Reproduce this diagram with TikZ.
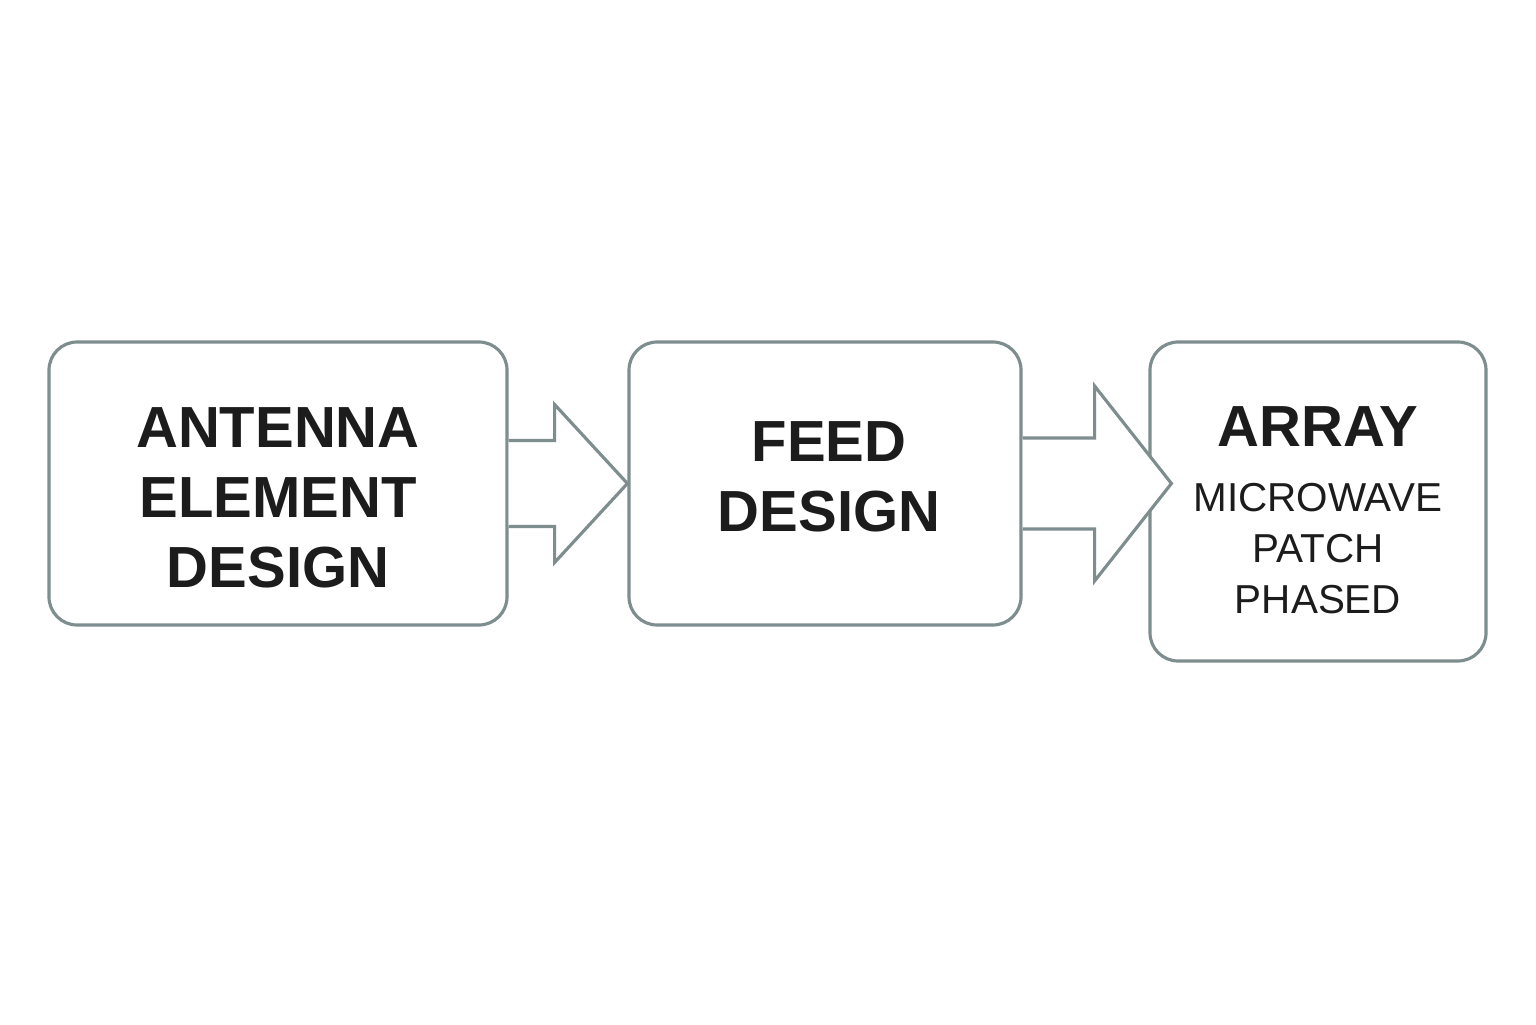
\documentclass[tikz,border=0pt]{standalone}
\usepackage{fontspec}
\setmainfont{Liberation Sans}
\usetikzlibrary{positioning,calc}
\definecolor{edgegray}{RGB}{126,142,142}
\definecolor{inkdark}{RGB}{28,28,28}

\begin{document}
\begin{tikzpicture}[
  box/.style={draw=edgegray,line width=0.9pt,rounded corners=8pt,fill=white,inner sep=0pt},
  txt/.style={align=center,inner sep=0pt,text=inkdark},
  big/.style={font=\fontsize{16.5}{19.9}\selectfont\bfseries},
  small/.style={font=\fontsize{11.5}{14.6}\selectfont},
  blockarr/.style={draw=edgegray,line width=0.9pt,fill=white,line join=miter},
]
  \useasboundingbox (0,0) rectangle (15.36,10.24);

  \node[box,minimum width=4.58cm,minimum height=2.83cm] (elem) at (2.78,5.405) {};
  \node[box,minimum width=3.92cm,minimum height=2.83cm] (feed) at (8.25,5.405) {};
  \node[box,minimum width=3.36cm,minimum height=3.19cm] (array) at (13.18,5.225) {};

  \node[txt,big] (elemtxt) at ($(elem)+(0,-0.14)$) {ANTENNA\\ELEMENT\\DESIGN};
  \node[txt,big] (feedtxt) at ($(feed)+(0.04,0.07)$) {FEED\\DESIGN};
  \node[txt,small] (arraytxt) at ($(array)+(0,-0.09)$)
    {{\fontsize{16.5}{19.9}\selectfont\bfseries ARRAY}\\[3.7pt]MICROWAVE\\PATCH\\PHASED};

  % block arrows between the stages
  \draw[blockarr] ($(elem.east)+(0,0.43)$) -- ++(0.46,0) -- ++(0,0.36)
    -- (feed.west) -- ($(elem.east)+(0.46,-0.79)$) -- ++(0,0.36)
    -- ($(elem.east)+(0,-0.43)$);
  \coordinate (tip) at ($(array.west |- feed.east)+(0.23,0)$);
  \draw[blockarr] ($(feed.east)+(0,0.455)$) -- ++(0.72,0) -- ++(0,0.52)
    -- (tip) -- ($(feed.east)+(0.72,-0.975)$) -- ++(0,0.52)
    -- ($(feed.east)+(0,-0.455)$);
\end{tikzpicture}
\end{document}
